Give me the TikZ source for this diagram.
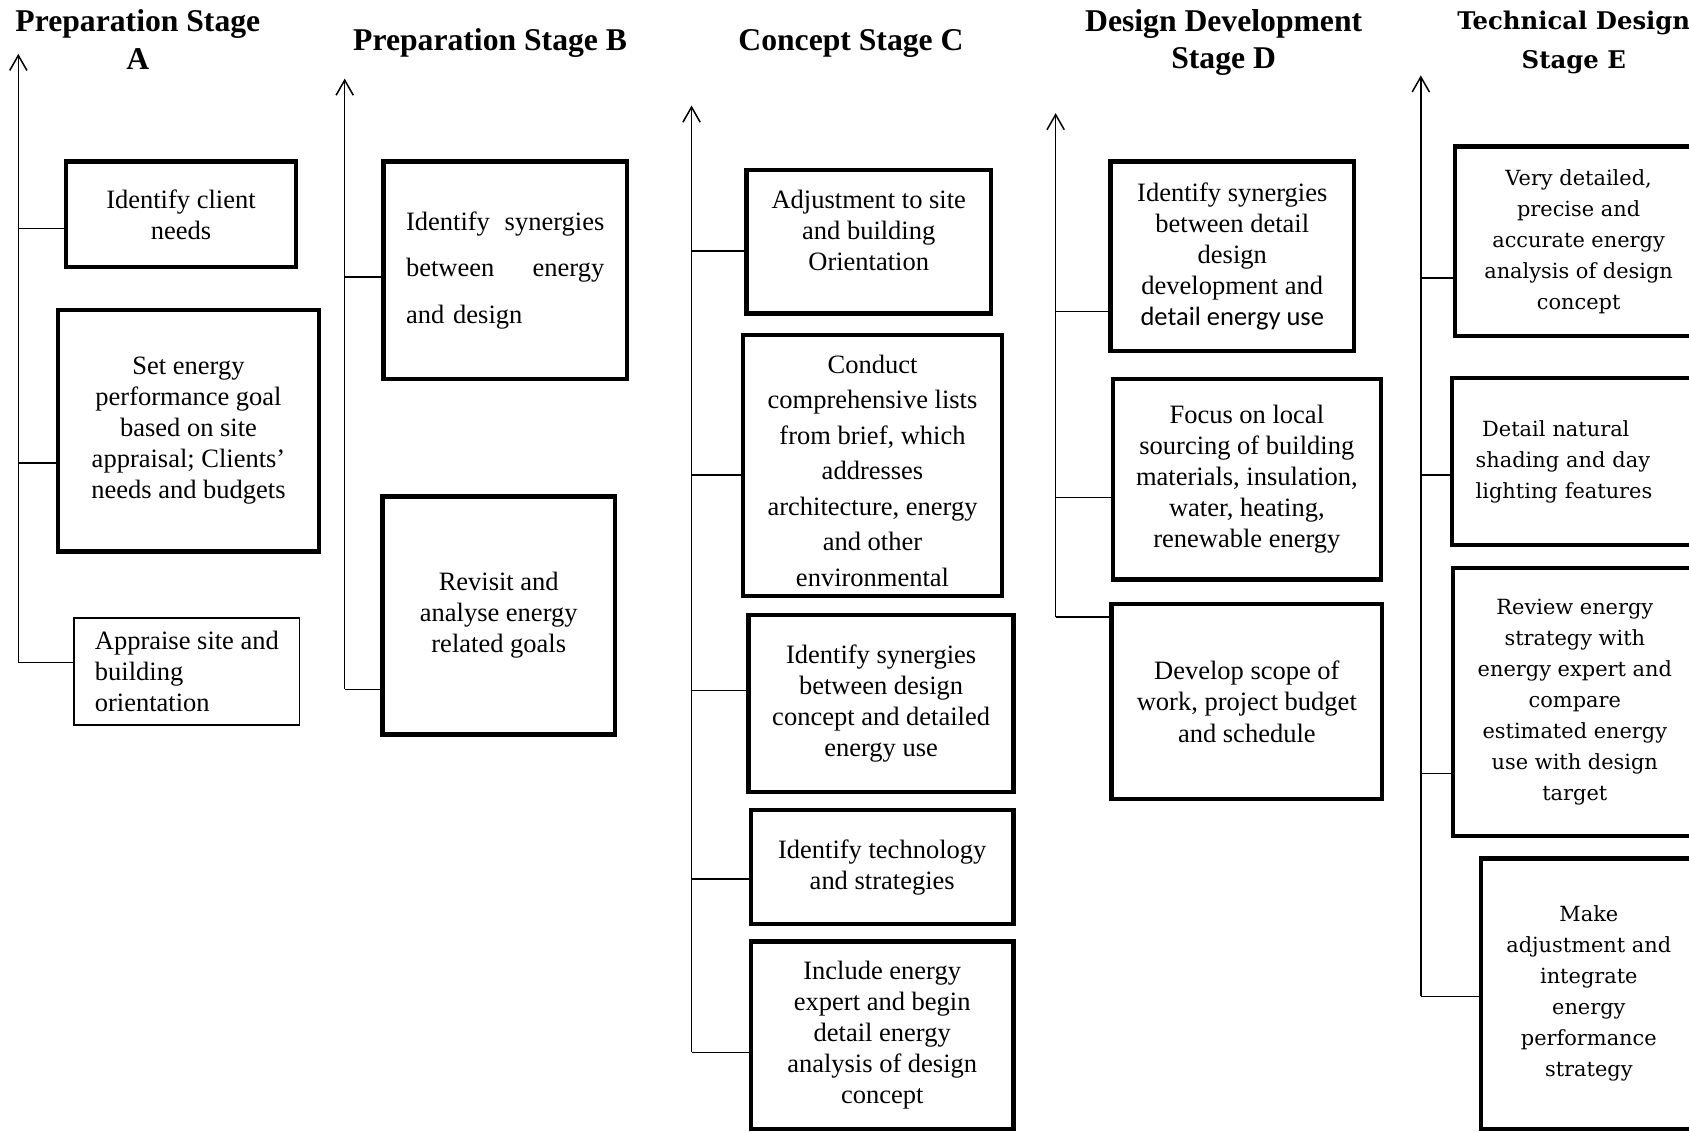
\documentclass[tikz,border=0pt]{standalone}
\usepackage{fontspec}
\setmainfont{Liberation Serif}
\newfontfamily\wideserif{DejaVu Serif}
\newfontfamily\calib{Carlito}
\usetikzlibrary{arrows.meta}

\tikzset{
  stage/.style={font=\bfseries\fontsize{14.7}{17.5}\selectfont, align=center, inner sep=0pt},
  stagee/.style={stage, font=\wideserif\bfseries\fontsize{11.3}{18}\selectfont},
  box/.style={draw, line width=2pt, inner sep=0pt, align=center, font=\fontsize{12.3}{14.4}\selectfont},
  thinbox/.style={box, line width=0.8pt},
  boxe/.style={box, font=\wideserif\fontsize{9.7}{14.4}\selectfont},
  boxtext/.style={align=center, inner sep=0pt, font=\fontsize{12.3}{14.4}\selectfont},
  axis/.style={line width=0.7pt, -{Straight Barb[length=7pt,width=8pt]}},
  link/.style={line width=0.75pt}
}

\begin{document}
\begin{tikzpicture}[x=0.5pt, y=-0.5pt]
  \useasboundingbox (0,0) rectangle (1568,1050);
  \clip (0,0) rectangle (1568,1050);

  % stage titles
  \node[stage] (ta) at (128,37) {Preparation Stage\\A};
  \node[stage] (tb) at (455,40) {Preparation Stage B};
  \node[stage] (tc) at (790,40) {Concept Stage C};
  \node[stage] (td) at (1136,39.5) {Design Development\\Stage D};
  \node[stagee] (te) at (1461,39.5) {Technical Design\\Stage E};

  % time axes
  \coordinate (atop) at (17,50);   \coordinate (abot) at (17,615);
  \coordinate (btop) at (320,73);  \coordinate (bbot) at (320,640);
  \coordinate (ctop) at (642,98);  \coordinate (cbot) at (642,977);
  \coordinate (dtop) at (980,105); \coordinate (dbot) at (980,573);
  \coordinate (etop) at (1319,70); \coordinate (ebot) at (1319,925);
  \draw[axis] (abot) -- (atop);
  \draw[axis] (bbot) -- (btop);
  \draw[axis] (cbot) -- (ctop);
  \draw[axis] (dbot) -- (dtop);
  \draw[axis] (ebot) -- (etop);

  % stage A
  \node[box, minimum width=107pt, minimum height=49pt] (a1) at (168,199) {Identify client\\needs};
  \node[box, minimum width=121pt, minimum height=112pt] (a2) at (175,400)
    {Set energy\\performance goal\\based on site\\appraisal; Clients’\\needs and budgets};
  \node[thinbox, align=left, minimum width=104.5pt, minimum height=49.5pt] (a3) at (173.5,623.5)
    {Appraise site and\\building\\orientation};

  % stage B
  \node[box, align=left, text width=92pt, font=\fontsize{12.3}{21.5}\selectfont,
    minimum width=113pt, minimum height=101pt] (b1) at (469,251)
    {Identify\hfill synergies\\between\hfill energy\\and design};
  \node[box, minimum width=108pt, minimum height=110.5pt] (b2) at (463,571.5)
    {Revisit and\\analyse energy\\related goals};

  % stage C
  \node[box, minimum width=113.5pt, minimum height=66.5pt] (c1) at (806.5,224.5) {};
  \node[boxtext] (c1t) at (806.5,214) {Adjustment to site\\and building\\Orientation};
  \node[box, minimum width=120pt, minimum height=121pt] (c2) at (810,432) {};
  \begin{scope}
    \clip (690,311) rectangle (930,546);
    \node[boxtext, font=\fontsize{12.3}{16.5}\selectfont] (c2t) at (810,437)
      {Conduct\\comprehensive lists\\from brief, which\\addresses\\architecture, energy\\and other\\environmental};
  \end{scope}
  \node[box, minimum width=123pt, minimum height=82pt] (c3) at (818,653)
    {Identify synergies\\between design\\concept and detailed\\energy use};
  \node[box, minimum width=122pt, minimum height=53pt] (c4) at (819,805)
    {Identify technology\\and strategies};
  \node[box, minimum width=122pt, minimum height=87pt] (c5) at (819,961)
    {Include energy\\expert and begin\\detail energy\\analysis of design\\concept};

  % stage D
  \node[box, minimum width=113pt, minimum height=88pt] (d1) at (1144,238)
    {Identify synergies\\between detail\\design\\development and\\{\calib detail energy use}};
  \node[box, minimum width=124.5pt, minimum height=93pt] (d2) at (1157.5,445)
    {Focus on local\\sourcing of building\\materials, insulation,\\water, heating,\\renewable energy};
  \node[box, minimum width=125.5pt, minimum height=90.5pt] (d3) at (1157.5,651.5)
    {Develop scope of\\work, project budget\\and schedule};

  % stage E
  \node[boxe, minimum width=114.5pt, minimum height=88pt] (e1) at (1465.5,224)
    {Very detailed,\\precise and\\accurate energy\\analysis of design\\concept};
  \node[boxe, align=left, text width=93pt, minimum width=115pt, minimum height=77.5pt] (e2) at (1463,428.5)
    {\hspace{3pt}Detail natural\\shading and day\\lighting features};
  \node[boxe, minimum width=113pt, minimum height=124.5pt] (e3) at (1462,651.5)
    {Review energy\\strategy with\\energy expert and\\compare\\estimated energy\\use with design\\target};
  \node[boxe, minimum width=100pt, minimum height=125.5pt] (e4) at (1475,922.5)
    {Make\\adjustment and\\integrate\\energy\\performance\\strategy};

  % links from the axes to the boxes
  \path[link]
  (a1.west |- 0,212) edge (abot |- 0,212)
  (a2.west |- 0,430) edge (abot |- 0,430)
  (a3.west |- 0,615) edge (abot |- 0,615)
  (b1.west |- 0,257) edge (bbot |- 0,257)
  (b2.west |- 0,640) edge (bbot |- 0,640)
  (c1.west |- 0,233) edge (cbot |- 0,233)
  (c2.west |- 0,441) edge (cbot |- 0,441)
  (c3.west |- 0,641) edge (cbot |- 0,641)
  (c4.west |- 0,816) edge (cbot |- 0,816)
  (c5.west |- 0,977) edge (cbot |- 0,977)
  (d1.west |- 0,289) edge (dbot |- 0,289)
  (d2.west |- 0,462) edge (dbot |- 0,462)
  (d3.west |- 0,573) edge (dbot |- 0,573)
  (e1.west |- 0,258) edge (ebot |- 0,258)
  (e2.west |- 0,441) edge (ebot |- 0,441)
  (e3.west |- 0,718) edge (ebot |- 0,718)
  (e4.west |- 0,925) edge (ebot |- 0,925);
\end{tikzpicture}
\end{document}
